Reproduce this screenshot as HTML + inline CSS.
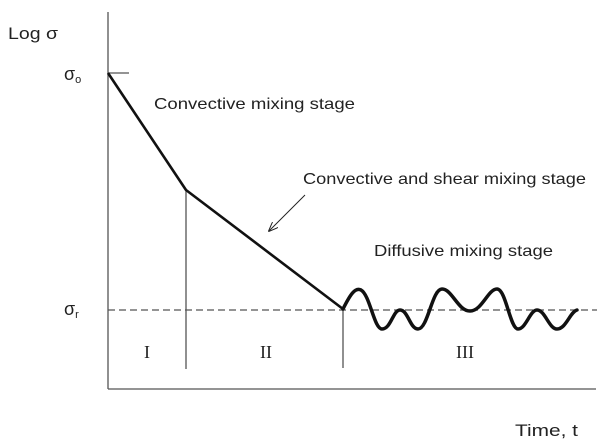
<!DOCTYPE html>
<html><head><style>html,body{margin:0;padding:0;background:#fff;}svg{display:block;}</style></head>
<body>
<svg width="604" height="444" viewBox="0 0 604 444" xmlns="http://www.w3.org/2000/svg">
<defs><marker id="ah" markerWidth="10" markerHeight="8" refX="9" refY="4" orient="auto" markerUnits="userSpaceOnUse"><path d="M0,0 L10,4 L0,8" fill="none" stroke="#222" stroke-width="1"/></marker></defs>
<g stroke="#555" stroke-width="1.3" fill="none">
<line x1="108" y1="12" x2="108" y2="389"/>
<line x1="108" y1="389" x2="596" y2="389"/>
<line x1="108" y1="73" x2="129" y2="73"/>
<line x1="186" y1="190" x2="186" y2="369"/>
<line x1="343" y1="309" x2="343" y2="368"/>
<line x1="108" y1="310" x2="597" y2="310" stroke-dasharray="7,4"/>
</g>
<polyline points="108,73 186,190 343,309" fill="none" stroke="#111" stroke-width="2.6" stroke-linejoin="round"/>
<path d="M343,309 C350,295 355,287 361,290 C370,295 374,329 382,329 C391,329 393,310 400,310 C408,310 410,329 418,329 C428,329 432,289 442,289 C452,289 458,311 470,311 C482,311 488,289 497,289 C506,289 510,329 518,329 C526,329 530,310 537,310 C545,310 549,329 557,329 C566,329 570,312 577,310" fill="none" stroke="#111" stroke-width="3.5" stroke-linecap="round"/>
<line x1="305" y1="195" x2="269" y2="231" stroke="#222" stroke-width="1" marker-end="url(#ah)"/>
<g font-family="Liberation Sans, Arial, sans-serif" fill="#222" font-size="16">
<text x="8" y="39" font-size="17" textLength="50" lengthAdjust="spacingAndGlyphs">Log σ</text>
<text x="64" y="80" font-size="18">σ<tspan font-size="11" dy="3">o</tspan></text>
<text x="64" y="315" font-size="18">σ<tspan font-size="11" dy="3">r</tspan></text>
<text x="154" y="109" textLength="201" lengthAdjust="spacingAndGlyphs">Convective mixing stage</text>
<text x="303" y="184" textLength="283" lengthAdjust="spacingAndGlyphs">Convective and shear mixing stage</text>
<text x="374" y="256" textLength="179" lengthAdjust="spacingAndGlyphs">Diffusive mixing stage</text>
<text x="515" y="436" font-size="17" textLength="63" lengthAdjust="spacingAndGlyphs">Time, t</text>
</g>
<g font-family="Liberation Serif, serif" fill="#222" font-size="18">
<text x="144" y="358">I</text>
<text x="260" y="358">II</text>
<text x="456" y="358">III</text>
</g>
</svg>
</body></html>
